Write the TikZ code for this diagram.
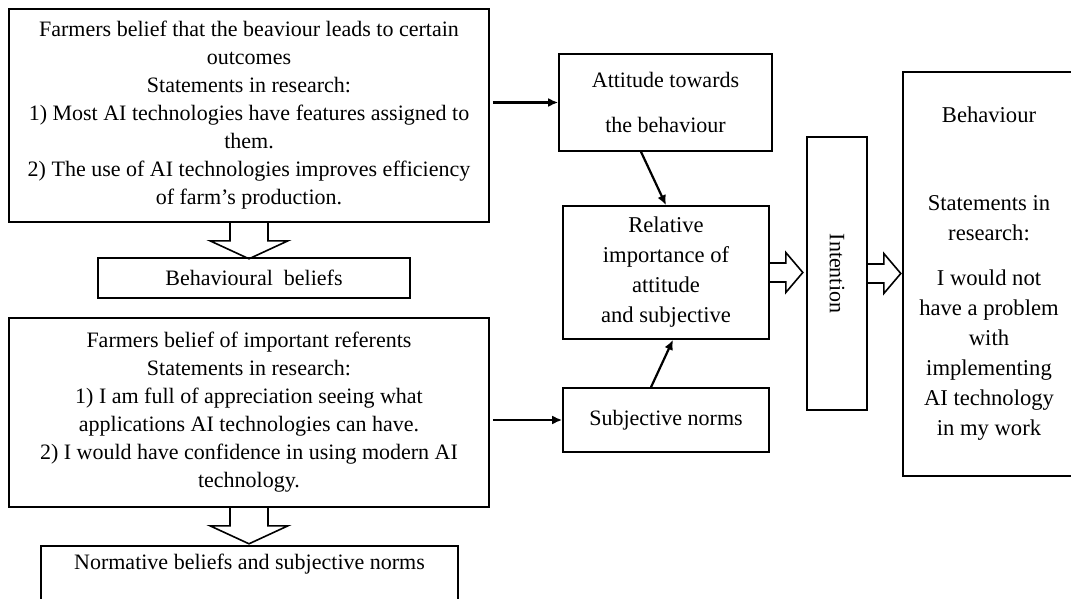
\documentclass[tikz,border=0pt]{standalone}
\usepackage{fontspec}
\setmainfont{Liberation Serif}
\usepackage{graphicx}
\usetikzlibrary{arrows.meta}

\begin{document}
\begin{tikzpicture}[x=0.5pt, y=-0.5pt, line width=0.8pt,
    box/.style={draw, rectangle, align=center, inner sep=2pt, font=\fontsize{11}{14}\selectfont},
    link/.style={line width=1.1pt, -{Latex[length=5pt,width=4.5pt]}},
    downarrow/.pic={\draw (-19,0) -- (-19,18) -- (-39,18) -- (0,36) -- (39,18) -- (19,18) -- (19,0);},
    rightarrow/.pic={\draw (0,-9.5) -- (16,-9.5) -- (16,-20) -- (33,0) -- (16,20) -- (16,9.5) -- (0,9.5);}]
      \clip (0,0) rectangle (1071,599);

      % beliefs column
      \node[box, minimum width=240pt, minimum height=106.5pt] (farm1) at (249,115.5)
        {Farmers belief that the beaviour leads to certain\\outcomes\\Statements in research:\\1) Most AI technologies have features assigned to\\them.\\2) The use of AI technologies improves efficiency\\of farm’s production.};
      \node[box, minimum width=156pt, minimum height=20pt] (bbel) at (254,278) {Behavioural\ \ beliefs};
      \node[box, minimum width=240pt, minimum height=94.5pt] (farm2) at (249,412.5)
        {Farmers belief of important referents\\Statements in research:\\1) I am full of appreciation seeing what\\applications AI technologies can have.\\2) I would have confidence in using modern AI\\technology.};
      \node[box, anchor=north, minimum width=208.5pt, minimum height=34pt] (nbel) at (249.5,545)
        {Normative beliefs and subjective norms\\\strut};

      % model column
      \node[box, minimum width=106.5pt, minimum height=48.5pt] (att) at (665.5,102.5) {Attitude towards\\[8.5pt]the behaviour};
      \node[box, minimum width=103pt, minimum height=66.5pt, font=\fontsize{11.3}{15}\selectfont] (rel) at (666,272.5)
        {Relative\\importance of\\attitude\\and subjective};
      \node[box, minimum width=103pt, minimum height=32pt] (subj) at (666,420) {Subjective norms};
      \node[box, minimum width=30pt, minimum height=136.5pt] (int) at (837,273.5) {\rotatebox{-90}{Intention}};
      \node[box, minimum width=86pt, minimum height=202pt, font=\fontsize{11.3}{15}\selectfont] (beh) at (989,274)
        {Behaviour\\[29pt]Statements in\\research:\\[7.5pt]I would not\\have a problem\\with\\implementing\\AI technology\\in my work};

      \pic at (farm1.south) {downarrow};
      \pic at (farm2.south) {downarrow};
      \pic at (rel.east) {rightarrow};
      \pic at (int.east) {rightarrow};

      \draw[link, shorten <=1.5pt] (att.west -| farm1.east) -- (att.west);
      \draw[link, shorten <=1.5pt] (subj.west -| farm2.east) -- (subj.west);
      \draw[link] ([xshift=-12.25pt]att.south) -- (rel.north);
      \draw[link] ([xshift=-7.5pt]subj.north) -- ([xshift=3.5pt]rel.south);
\end{tikzpicture}
\end{document}
